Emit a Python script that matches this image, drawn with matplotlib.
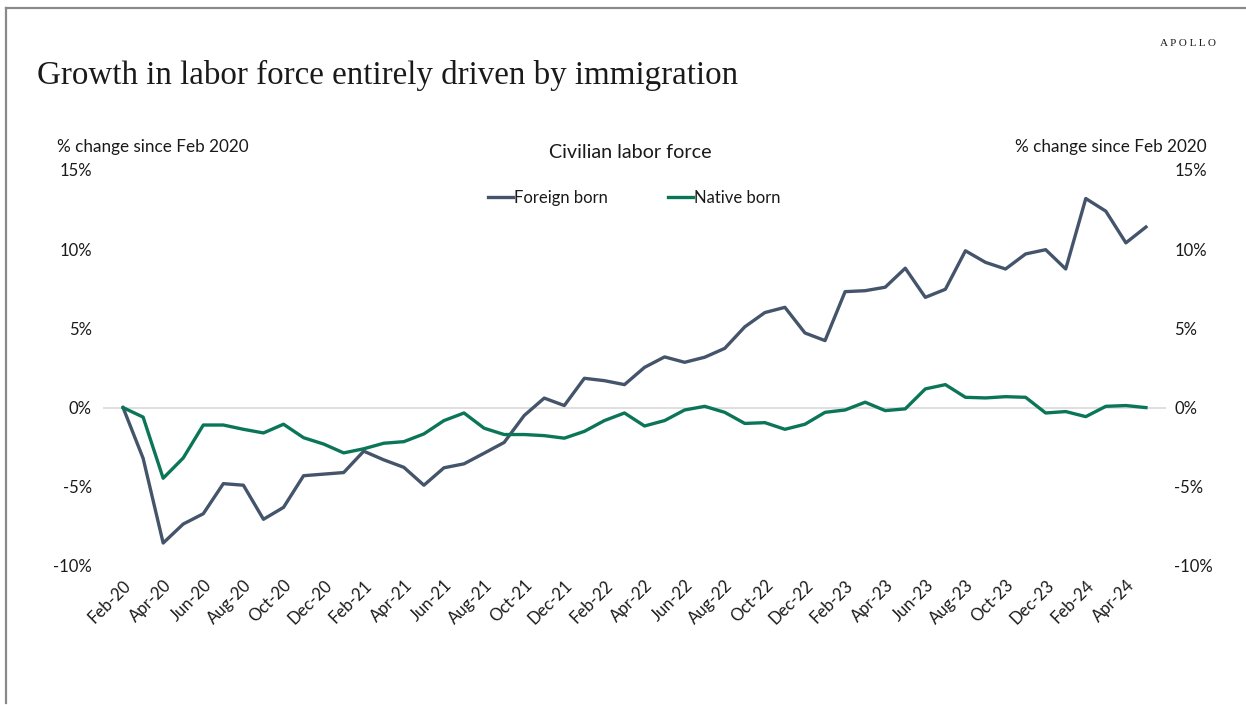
import pandas as pd
import matplotlib
matplotlib.use("Agg")
import matplotlib.pyplot as plt
from matplotlib.lines import Line2D
from matplotlib.ticker import FuncFormatter

# --- data: % change since Feb 2020, monthly Feb-20 .. May-24 ---
months = pd.date_range("2020-02-01", "2024-05-01", freq="MS")
month_labels = [d.strftime("%b-%y") for d in months]

foreign_born = [
    0.0, -3.2, -8.55, -7.35, -6.7, -4.8, -4.9, -7.05, -6.3, -4.3,
    -4.2, -4.1, -2.75, -3.3, -3.77, -4.9, -3.8, -3.55, -2.88, -2.2,
    -0.5, 0.6, 0.13, 1.85, 1.7, 1.45, 2.54, 3.2, 2.86, 3.18,
    3.74, 5.1, 6.0, 6.33, 4.71, 4.23, 7.32, 7.38, 7.6, 8.8,
    6.96, 7.47, 9.9, 9.17, 8.75, 9.7, 9.97, 8.75, 13.2, 12.4,
    10.4, 11.4,
]
native_born = [
    0.0, -0.6, -4.46, -3.18, -1.1, -1.1, -1.37, -1.6, -1.05, -1.9,
    -2.3, -2.86, -2.6, -2.25, -2.15, -1.66, -0.82, -0.34, -1.3, -1.7,
    -1.7, -1.77, -1.93, -1.5, -0.82, -0.34, -1.16, -0.82, -0.15, 0.08,
    -0.3, -1.0, -0.95, -1.37, -1.05, -0.3, -0.15, 0.34, -0.19, -0.08,
    1.18, 1.45, 0.65, 0.61, 0.69, 0.65, -0.34, -0.25, -0.57, 0.08,
    0.13, 0.0,
]
y_ticks = [-10, -5, 0, 5, 10, 15]

FOREIGN_COLOR = "#44546A"
NATIVE_COLOR = "#0B7558"
TEXT_COLOR = "#1a1a1a"
SANS = ["Lato", "DejaVu Sans"]
SERIF = ["Liberation Serif", "DejaVu Serif"]

fig = plt.figure(figsize=(12.46, 7.05), dpi=100)
W, H = 1246, 705

# axes placed so the plot area matches the reference pixels
x0_px, x1_px = 103, 1166
y_top_px, y_bot_px = 170, 566
ax = fig.add_axes([x0_px / W, 1 - y_bot_px / H,
                   (x1_px - x0_px) / W, (y_bot_px - y_top_px) / H])

x = list(range(len(months)))
ax.axhline(0, color="#d9d9d9", linewidth=1.2, zorder=1)
ax.plot(x, foreign_born, color=FOREIGN_COLOR, linewidth=2.4, label="Foreign born", zorder=3)
ax.plot(x, native_born, color=NATIVE_COLOR, linewidth=2.4, label="Native born", zorder=3)

ax.set_xlim(-1, len(months))
ax.set_ylim(-10, 15)
ax.set_yticks(y_ticks)
pct = FuncFormatter(lambda v, p: f"{v:.0f}%")
ax.yaxis.set_major_formatter(pct)

ax.set_xticks(x[::2])
ax.set_xticklabels(month_labels[::2], rotation=45, ha="right", va="top",
                   rotation_mode="anchor", fontsize=12, color=TEXT_COLOR,
                   family=SANS)
for s in ax.spines.values():
    s.set_visible(False)
ax.tick_params(axis="both", length=0)
ax.tick_params(axis="x", pad=8)
ax.tick_params(axis="y", pad=8)
for lab in ax.get_yticklabels():
    lab.set_fontsize(12)
    lab.set_color(TEXT_COLOR)
    lab.set_family(SANS)

ax2 = ax.twinx()
ax2.set_ylim(ax.get_ylim())
ax2.set_yticks(y_ticks)
ax2.yaxis.set_major_formatter(pct)
ax2.tick_params(axis="y", length=0, pad=6)
for s in ax2.spines.values():
    s.set_visible(False)
for lab in ax2.get_yticklabels():
    lab.set_fontsize(12)
    lab.set_color(TEXT_COLOR)
    lab.set_family(SANS)

leg = ax.legend(loc="center", bbox_to_anchor=(634 / W, 1 - 198 / H),
                bbox_transform=fig.transFigure, ncol=2, frameon=False,
                handlelength=1.5, handletextpad=0.05, columnspacing=3.6,
                prop={"family": SANS, "size": 12})
for t in leg.get_texts():
    t.set_color(TEXT_COLOR)

# texts
fig.text(37 / W, 1 - 75 / H, "Growth in labor force entirely driven by immigration",
         family=SERIF, fontsize=23.8, color=TEXT_COLOR, va="center", ha="left")
fig.text(1216 / W, 1 - 44 / H, "A P O L L O", family=SERIF, fontsize=8,
         color=TEXT_COLOR, va="center", ha="right")
fig.text(630 / W, 1 - 152 / H, "Civilian labor force", family=SANS, fontsize=14.2,
         color=TEXT_COLOR, va="center", ha="center")
fig.text(57 / W, 1 - 147 / H, "% change since Feb 2020", family=SANS, fontsize=12.3,
         color=TEXT_COLOR, va="center", ha="left")
fig.text(1207 / W, 1 - 147 / H, "% change since Feb 2020", family=SANS, fontsize=12.3,
         color=TEXT_COLOR, va="center", ha="right")

# grey page frame (left and top edges)
fig.add_artist(Line2D([5.5 / W, 5.5 / W], [0.003, 1 - 7.5 / H], transform=fig.transFigure,
                      color="#8a8a8a", linewidth=1.6))
fig.add_artist(Line2D([5.5 / W, 1.0], [1 - 7.5 / H, 1 - 7.5 / H], transform=fig.transFigure,
                      color="#8a8a8a", linewidth=1.6))

fig.savefig("out.png", dpi=100, facecolor="white")
